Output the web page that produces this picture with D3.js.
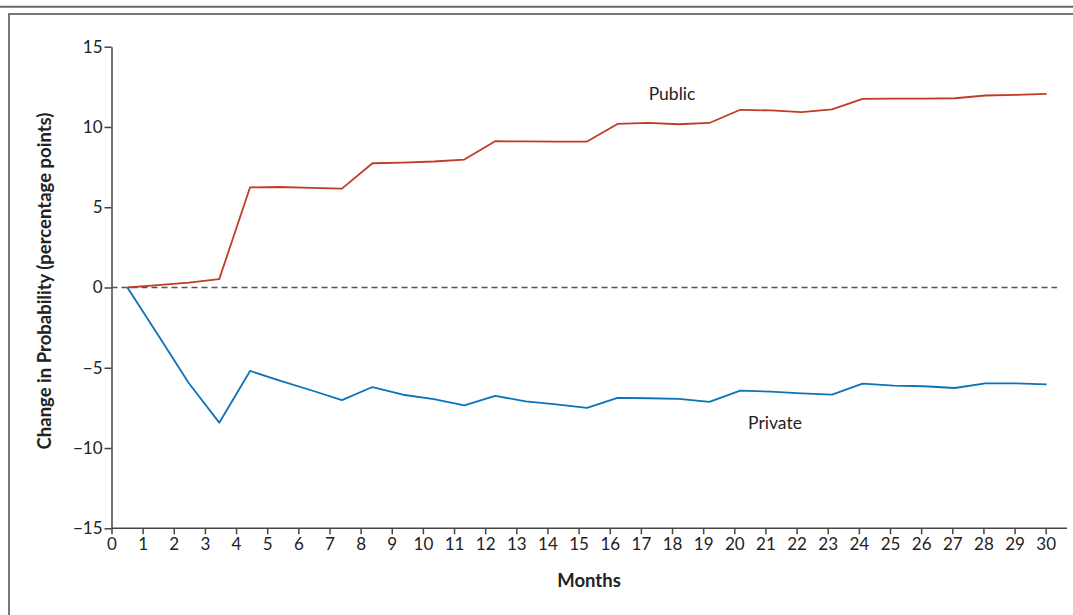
<!DOCTYPE html>
<html>
<head>
<meta charset="utf-8">
<script src="https://cdn.jsdelivr.net/npm/d3@7"></script>
<style>
  body { margin: 0; background: #fff; }
  text { font-family: Lato, "Open Sans", sans-serif; fill: #222; }
</style>
</head>
<body>
<svg id="graph" width="1073" height="615"></svg>
<script>
const monthPos = [0.51, 1.49, 2.48, 3.46, 4.45, 5.43, 6.41, 7.40, 8.38, 9.36,
  10.35, 11.33, 12.32, 13.30, 14.28, 15.27, 16.25, 17.24, 18.22, 19.20,
  20.19, 21.17, 22.16, 23.14, 24.12, 25.11, 26.09, 27.08, 28.06, 29.04, 30.03]

const publicVals = [0, 0.15, 0.31, 0.52, 6.24, 6.26, 6.2, 6.16, 7.74, 7.78,
  7.85, 7.97, 9.11, 9.1, 9.09, 9.09, 10.19, 10.26, 10.17, 10.25,
  11.07, 11.03, 10.92, 11.09, 11.75, 11.76, 11.76, 11.79, 11.96, 12.0, 12.06]

const privateVals = [0, -2.95, -5.95, -8.42, -5.2, -5.82, -6.4, -7.02, -6.2, -6.68,
  -6.96, -7.34, -6.75, -7.09, -7.28, -7.5, -6.88, -6.9, -6.94, -7.13,
  -6.42, -6.49, -6.59, -6.67, -5.99, -6.11, -6.15, -6.26, -5.97, -5.97, -6.03]

const xTicks = d3.range(0, 31)
const yTicks = [-15, -10, -5, 0, 5, 10, 15]

const seriesNames = ['Public', 'Private']
const seriesColors = ['#c13b28', '#0b73b8']

///////////////////////////////////////////////////

const svg = d3.select('#graph')

// frame lines
svg.append('line').attr('x1', 0).attr('x2', 1073).attr('y1', 6.7).attr('y2', 6.7)
  .attr('stroke', '#666').attr('stroke-width', 2)
svg.append('path').attr('d', 'M9,615 V14 H1073')
  .attr('fill', 'none').attr('stroke', '#777').attr('stroke-width', 2)

const x = d3.scaleLinear().domain([0, 30]).range([111.5, 1045.7])
const y = d3.scaleLinear().domain([-15, 15]).range([528.3, 46.7])

const xAxis = svg.append('g')
  .attr('transform', `translate(0,${y(-15)})`)
  .call(d3.axisBottom(x).tickValues(xTicks).tickSize(6).tickPadding(4).tickSizeOuter(0))
xAxis.select('.domain').attr('d', `M${x(0)},0H1067`)

const yAxis = svg.append('g')
  .attr('transform', `translate(${x(0)},0)`)
  .call(d3.axisLeft(y).tickValues(yTicks).tickSize(7).tickPadding(2).tickSizeOuter(0)
    .tickFormat(d => d < 0 ? '\u2212' + Math.abs(d) : d))

svg.selectAll('.domain, .tick line').attr('stroke', '#444').attr('stroke-width', 1.5)
svg.selectAll('.tick text').attr('font-family', 'Lato, sans-serif')
  .attr('font-size', 17).attr('fill', '#222')

// zero line
svg.append('line')
  .attr('x1', x(0)).attr('x2', 1057)
  .attr('y1', y(0)).attr('y2', y(0))
  .attr('stroke', '#555').attr('stroke-width', 1.5)
  .attr('stroke-dasharray', '6,4')

const line = d3.line().x((d, i) => x(monthPos[i])).y(d => y(d))

const series = [publicVals, privateVals]
svg.selectAll('.series').data(series).enter().append('path')
  .attr('class', 'series')
  .attr('d', line)
  .attr('fill', 'none')
  .attr('stroke', (d, i) => seriesColors[i])
  .attr('stroke-width', 1.8)
  .attr('stroke-linejoin', 'round')

// series labels
svg.append('text').attr('x', 672).attr('y', 100).attr('text-anchor', 'middle')
  .attr('font-size', 17.5).text(seriesNames[0])
svg.append('text').attr('x', 775).attr('y', 429).attr('text-anchor', 'middle')
  .attr('font-size', 17.5).text(seriesNames[1])

// axis titles
svg.append('text').attr('x', 589).attr('y', 587).attr('text-anchor', 'middle')
  .attr('font-size', 18.5).attr('font-weight', 'bold').text('Months')
svg.append('text')
  .attr('transform', `translate(51,${281}) rotate(-90)`)
  .attr('text-anchor', 'middle')
  .attr('font-size', 18.5).attr('font-weight', 'bold')
  .text('Change in Probability (percentage points)')
</script>
</body>
</html>
